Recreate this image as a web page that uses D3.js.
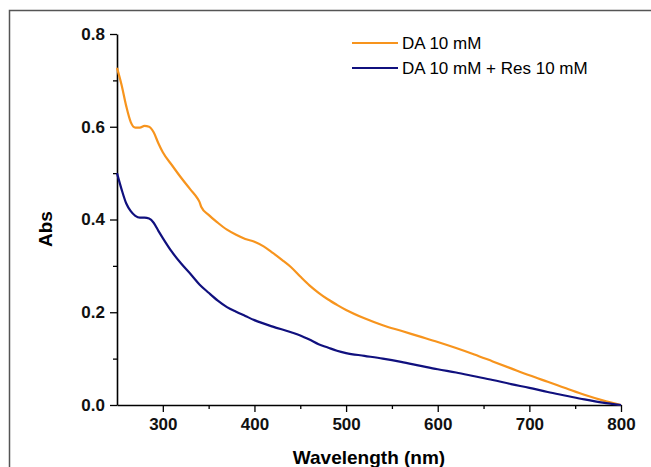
<html lang="en">
<head>
<meta charset="UTF-8"/>
<title>Abs spectra</title>
<script src="https://d3js.org/d3.v7.min.js"></script>
<style>
    body { margin: 0; background: #fff; overflow: hidden; }
    svg { display: block; }
    text { font-family: "Liberation Sans", Arial, sans-serif; }
    .tick text { font-family: "Liberation Sans Narrow", "Arial Narrow", "Liberation Sans", sans-serif; }
</style>
</head>
<body>
<script>
    // wavelength (nm) and absorbance for each series
    var waveDA = [250,255,260,265,270,275,280,285,290,295,300,310,320,330,338,340,342,350,360,370,380,390,400,410,420,430,440,450,460,470,480,490,500,520,540,560,580,600,620,640,660,680,700,720,730,740,760,780,800];
    var absDA = [0.727,0.69,0.645,0.61,0.598,0.598,0.602,0.600,0.588,0.565,0.545,0.517,0.49,0.465,0.445,0.438,0.427,0.41,0.393,0.378,0.367,0.358,0.352,0.342,0.328,0.313,0.297,0.277,0.258,0.242,0.228,0.216,0.205,0.187,0.172,0.16,0.148,0.136,0.123,0.109,0.094,0.079,0.064,0.05,0.043,0.036,0.022,0.01,0];

    var waveRes = [250,255,260,265,270,275,280,285,290,295,300,310,320,330,340,350,360,370,380,390,400,420,440,450,460,470,480,490,500,520,540,560,580,600,620,640,660,680,700,720,740,760,780,800];
    var absRes = [0.50,0.465,0.435,0.418,0.408,0.404,0.404,0.402,0.393,0.376,0.36,0.33,0.305,0.283,0.26,0.242,0.225,0.211,0.201,0.192,0.183,0.169,0.157,0.15,0.141,0.131,0.124,0.117,0.112,0.106,0.100,0.093,0.085,0.077,0.07,0.062,0.054,0.045,0.037,0.028,0.02,0.012,0.005,0];

    var seriesNames = ["DA 10 mM", "DA 10 mM + Res 10 mM"];
    var seriesColors = ["#f7941d", "#10107e"];
    var xTicks = [300,400,500,600,700,800];
    var yTicks = [0.0,0.2,0.4,0.6,0.8];

    var w = 651, h = 467;
    var svg = d3.select("body").append("svg")
        .attr("width", w)
        .attr("height", h);

    // outer frame (only top and left edges fall inside the picture)
    svg.append("path")
        .attr("d", "M9.5," + h + "V10.5H" + w)
        .attr("fill", "none")
        .attr("stroke", "#555")
        .attr("stroke-width", 1.5);

    var xScale = d3.scaleLinear().domain([250, 800]).range([117, 621]);
    var yScale = d3.scaleLinear().domain([0, 0.8]).range([405, 34]);

    // minor ticks
    var xMinor = [350,450,550,650,750];
    var yMinor = [0.1,0.3,0.5,0.7];

    svg.append("g")
        .attr("transform", "translate(0,405)")
        .call(d3.axisBottom(xScale).tickValues(xMinor).tickSize(4).tickFormat(""))
        .call(function(g){ g.select(".domain").remove(); })
        .selectAll("line").attr("stroke-width", 1.3);

    svg.append("g")
        .attr("transform", "translate(117,0)")
        .call(d3.axisLeft(yScale).tickValues(yMinor).tickSize(4).tickFormat(""))
        .call(function(g){ g.select(".domain").remove(); })
        .selectAll("line").attr("stroke-width", 1.3);

    var xAxis = svg.append("g")
        .attr("transform", "translate(0,405)")
        .call(d3.axisBottom(xScale).tickValues(xTicks).tickSize(7).tickSizeOuter(0).tickPadding(6));
    xAxis.select(".domain").attr("stroke-width", 1.6);
    xAxis.selectAll("line").attr("stroke-width", 1.3);
    xAxis.selectAll("text")
        .attr("font-size", 17).attr("font-weight", "bold").attr("fill", "#111");

    var yAxis = svg.append("g")
        .attr("transform", "translate(117,0)")
        .call(d3.axisLeft(yScale).tickValues(yTicks).tickSize(7).tickSizeOuter(0).tickFormat(d3.format(".1f")).tickPadding(5));
    yAxis.select(".domain").attr("stroke-width", 1.6);
    yAxis.selectAll("line").attr("stroke-width", 1.3);
    yAxis.selectAll("text")
        .attr("font-size", 17).attr("font-weight", "bold").attr("fill", "#111");

    // axis titles
    svg.append("text")
        .attr("x", 369).attr("y", 464)
        .attr("text-anchor", "middle")
        .attr("font-size", 19).attr("font-weight", "bold")
        .text("Wavelength (nm)");

    svg.append("text")
        .attr("transform", "translate(52,229) rotate(-90)")
        .attr("text-anchor", "middle")
        .attr("font-size", 19).attr("font-weight", "bold")
        .text("Abs");

    // curves
    var line = d3.line()
        .x(function(d){ return xScale(d[0]); })
        .y(function(d){ return yScale(d[1]); })
        .curve(d3.curveMonotoneX);

    var data = [d3.zip(waveDA, absDA), d3.zip(waveRes, absRes)];

    svg.selectAll("path.curve")
        .data(data)
        .enter()
        .append("path")
        .attr("class", "curve")
        .attr("fill", "none")
        .attr("stroke", function(d, i){ return seriesColors[i]; })
        .attr("stroke-width", 2.2)
        .attr("d", line);

    // legend
    var legend = svg.selectAll("g.leg")
        .data(seriesNames)
        .enter()
        .append("g")
        .attr("class", "leg")
        .attr("transform", function(d, i){ return "translate(352," + (43 + i * 25) + ")"; });

    legend.append("line")
        .attr("x1", 0).attr("x2", 46)
        .attr("stroke", function(d, i){ return seriesColors[i]; })
        .attr("stroke-width", 2.2);

    legend.append("text")
        .attr("x", 50).attr("y", 6)
        .attr("font-size", 17)
        .text(function(d){ return d; });
</script>
</body>
</html>
